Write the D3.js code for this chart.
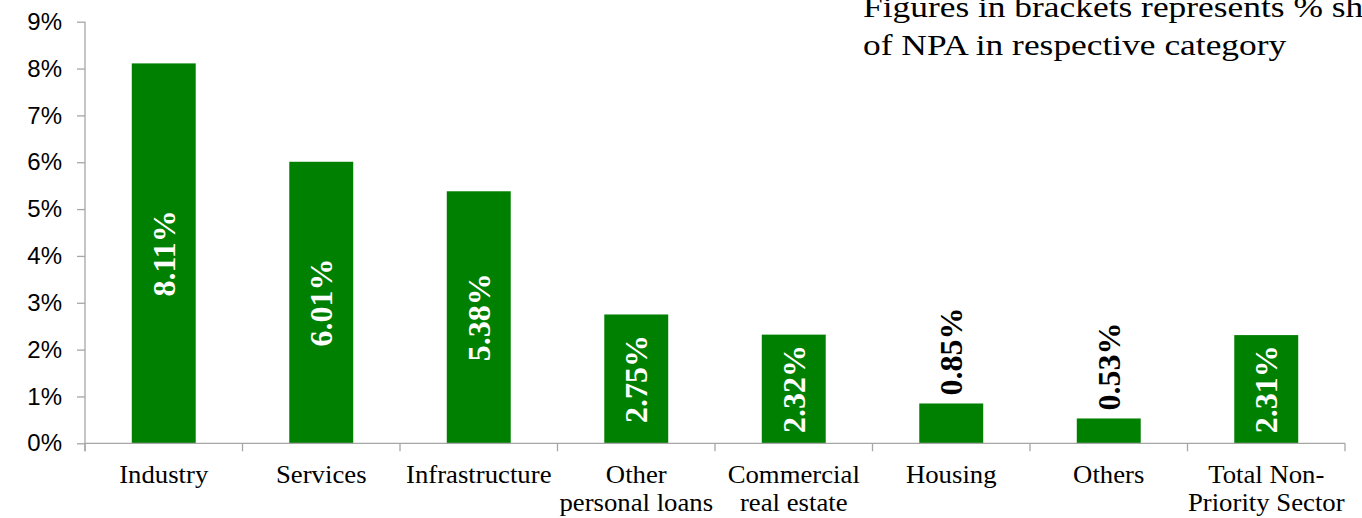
<!DOCTYPE html>
<html>
<head>
<meta charset="utf-8">
<script src="https://cdn.jsdelivr.net/npm/d3@7"></script>
<style>
  html, body { margin: 0; padding: 0; background: #fff; }
  svg { display: block; }
</style>
</head>
<body>
<svg id="chart" width="1362" height="518"></svg>
<script>
// Gross NPA ratio by non-priority sector category
const categories = [
  ["Industry"],
  ["Services"],
  ["Infrastructure"],
  ["Other", "personal loans"],
  ["Commercial", "real estate"],
  ["Housing"],
  ["Others"],
  ["Total Non-", "Priority Sector"]
];
const values = [8.11, 6.01, 5.38, 2.75, 2.32, 0.85, 0.53, 2.31];
const yTicks = [0, 1, 2, 3, 4, 5, 6, 7, 8, 9];
const noteLines = [
  "Figures in brackets represents % share",
  "of NPA in respective category"
];

const svg = d3.select("#chart");
const x0 = 85, x1 = 1345;
const yTop = 21.7, yBase = 443.3;

const serif = "'Liberation Serif', 'Times New Roman', serif";
const sans = "'Liberation Sans', Arial, sans-serif";
const axisColor = "#a6a6a6";
const barColor = "#008000";

const x = d3.scaleBand()
  .domain(d3.range(categories.length))
  .range([x0, x1])
  .paddingInner(0.594)
  .paddingOuter(0.297);

const y = d3.scaleLinear().domain([0, 9]).range([yBase, yTop]);

// Bars
svg.append("g")
  .selectAll("rect")
  .data(values)
  .join("rect")
  .attr("x", (d, i) => x(i))
  .attr("y", d => y(d))
  .attr("width", x.bandwidth())
  .attr("height", d => y(0) - y(d))
  .attr("fill", barColor);

// Y axis
const yAxis = svg.append("g")
  .attr("transform", `translate(${x0},0)`)
  .call(d3.axisLeft(y).tickValues(yTicks).tickSize(8).tickPadding(15)
    .tickFormat(d => d + "%"));
yAxis.select(".domain").attr("stroke", axisColor).attr("stroke-width", 1.3)
  .attr("d", `M0,${yTop}V${yBase + 8}`);
yAxis.selectAll(".tick line").attr("stroke", axisColor).attr("stroke-width", 1.3);
yAxis.selectAll(".tick text")
  .attr("font-family", sans)
  .attr("font-size", 24)
  .attr("fill", "#000");

// X axis baseline with category separators
const sepScale = d3.scaleLinear().domain([0, categories.length]).range([x0, x1]);
svg.append("line")
  .attr("x1", x0).attr("x2", x1)
  .attr("y1", yBase).attr("y2", yBase)
  .attr("stroke", axisColor).attr("stroke-width", 1.3);
svg.append("g")
  .selectAll("line")
  .data(d3.range(categories.length + 1))
  .join("line")
  .attr("x1", d => sepScale(d)).attr("x2", d => sepScale(d))
  .attr("y1", yBase).attr("y2", yBase + 8)
  .attr("stroke", axisColor).attr("stroke-width", 1.3);

// Category labels
const catG = svg.append("g");
categories.forEach((lines, i) => {
  const cx = x(i) + x.bandwidth() / 2;
  lines.forEach((t, k) => {
    catG.append("text")
      .attr("transform", `translate(${cx},${483 + k * 28}) scale(1.07,1)`)
      .attr("text-anchor", "middle")
      .attr("font-family", serif)
      .attr("font-size", 25)
      .attr("fill", "#000")
      .text(t);
  });
});

// Value labels, rotated; inside the bar when it fits, otherwise above it
const labelG = svg.append("g");
const labelLen = 86;
values.forEach((v, i) => {
  const cx = x(i) + x.bandwidth() / 2;
  const h = y(0) - y(v);
  const inside = h > labelLen + 10;
  const t = labelG.append("text")
    .attr("font-family", serif)
    .attr("font-weight", "bold")
    .attr("font-size", 32)
    .attr("fill", inside ? "#fff" : "#000")
    .text(v.toFixed(2) + "%");
  if (inside) {
    const cy = (y(v) + y(0)) / 2;
    t.attr("transform", `translate(${cx + 11},${cy}) rotate(-90)`)
      .attr("text-anchor", "middle");
  } else {
    t.attr("transform", `translate(${cx + 11},${y(v) - 8}) rotate(-90)`)
      .attr("text-anchor", "start");
  }
});

// Note in the top right corner
const noteG = svg.append("g");
noteLines.forEach((t, k) => {
  noteG.append("text")
    .attr("transform", `translate(863,${17 + k * 38}) scale(1.18,1)`)
    .attr("font-family", serif)
    .attr("font-size", 30)
    .attr("fill", "#000")
    .text(t);
});
</script>
</body>
</html>
